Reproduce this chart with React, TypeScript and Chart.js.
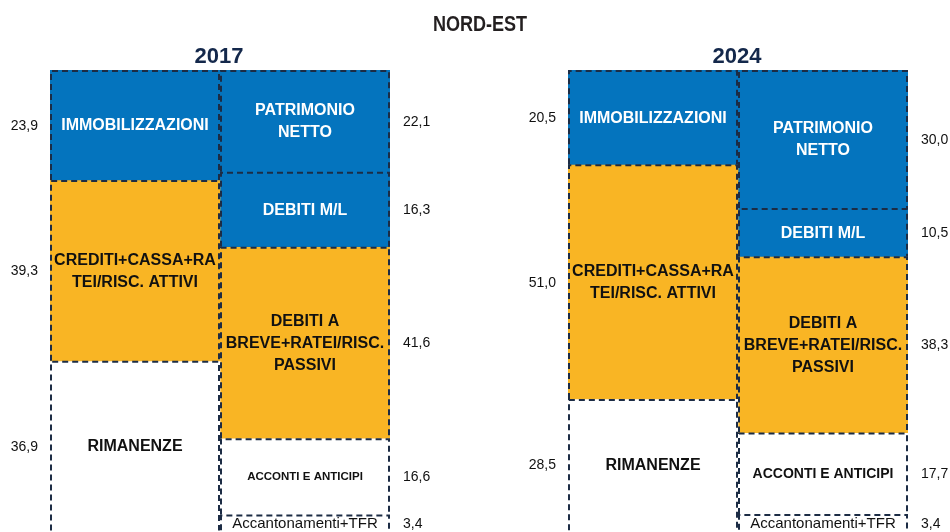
import React, { useEffect, useRef } from "react";
import { Chart, registerables } from "chart.js";

Chart.register(...registerables);

// ---- data ----
const REGION = "NORD-EST";
const YEARS = ["2017", "2024"];
const COLUMNS = ["Attivo", "Passivo"];

const ASSET_LINES: string[][] = [
  ["IMMOBILIZZAZIONI"],
  ["CREDITI+CASSA+RA", "TEI/RISC. ATTIVI"],
  ["RIMANENZE"],
];
const LIAB_LINES: string[][] = [
  ["PATRIMONIO", "NETTO"],
  ["DEBITI M/L"],
  ["DEBITI A", "BREVE+RATEI/RISC.", "PASSIVI"],
  ["ACCONTI E ANTICIPI"],
  ["Accantonamenti+TFR"],
];

const ASSETS_2017 = [23.9, 39.3, 36.9];
const LIABS_2017 = [22.1, 16.3, 41.6, 16.6, 3.4];
const ASSETS_2024 = [20.5, 51.0, 28.5];
const LIABS_2024 = [30.0, 10.5, 38.3, 17.7, 3.4];

// ---- styles ----
const BLUE = "#0474BE";
const YELLOW = "#F9B524";
const WHITE = "#FFFFFF";
const BORDER = "#1C2C45";
const ASSET_FILL = [BLUE, YELLOW, WHITE];
const LIAB_FILL = [BLUE, BLUE, YELLOW, WHITE, WHITE];
const ASSET_TEXT = ["#FFFFFF", "#111111", "#111111"];
const LIAB_TEXT = ["#FFFFFF", "#FFFFFF", "#111111", "#111111", "#111111"];

const fmt = (v: number) => v.toFixed(1).replace(".", ",");

type PanelCfg = {
  assets: number[];
  liabs: number[];
  accontiSize: number;
};

const boxPlugin = {
  id: "boxes",
  afterDatasetsDraw(chart: any) {
    const ctx: CanvasRenderingContext2D = chart.ctx;
    const cfg: PanelCfg = chart.options.plugins.boxes;
    chart.data.datasets.forEach((ds: any, i: number) => {
      const meta = chart.getDatasetMeta(i);
      meta.data.forEach((el: any, j: number) => {
        const v = ds.data[j];
        if (v == null) return;
        const p = el.getProps(["x", "y", "base", "width"], true);
        const left = p.x - p.width / 2;
        const right = p.x + p.width / 2;
        const top = Math.min(p.y, p.base);
        const bottom = Math.max(p.y, p.base);
        // dashed outline: top + sides (bottom edge is the next segment's top)
        ctx.save();
        ctx.setLineDash([6, 4]);
        ctx.lineWidth = 2;
        ctx.strokeStyle = BORDER;
        ctx.beginPath();
        ctx.moveTo(left + 1, bottom);
        ctx.lineTo(left + 1, top + 1);
        ctx.lineTo(right - 1, top + 1);
        ctx.lineTo(right - 1, bottom);
        ctx.stroke();
        ctx.restore();

        // label inside
        const lines: string[] = ds.lines;
        const isAcconti = ds.kind === "liab" && ds.idx === 3;
        const isAccant = ds.kind === "liab" && ds.idx === 4;
        const size = isAcconti ? cfg.accontiSize : isAccant ? 15 : 16;
        const weight = isAccant ? "normal" : "bold";
        const dy = isAccant ? 2 : 1;
        ctx.save();
        ctx.font = `${weight} ${size}px "Liberation Sans", Arial, sans-serif`;
        ctx.fillStyle = ds.textColor;
        ctx.textAlign = "center";
        ctx.textBaseline = "middle";
        const lh = 22;
        const cy = (top + bottom) / 2;
        lines.forEach((ln, k) => {
          ctx.fillText(ln, p.x, cy + (k - (lines.length - 1) / 2) * lh + dy);
        });
        // value label
        ctx.font = `normal 14px "Liberation Sans", Arial, sans-serif`;
        ctx.fillStyle = "#111111";
        if (ds.kind === "asset") {
          ctx.textAlign = "right";
          ctx.fillText(fmt(v), left - 12, cy + 1);
        } else {
          ctx.textAlign = "left";
          ctx.fillText(fmt(v), right + 13, cy + dy);
        }
        ctx.restore();
      });
    });
  },
};

function buildDatasets(assets: number[], liabs: number[]) {
  const ds: any[] = [];
  assets.forEach((v, i) =>
    ds.push({
      data: [v, null],
      backgroundColor: ASSET_FILL[i],
      borderWidth: 0,
      lines: ASSET_LINES[i],
      textColor: ASSET_TEXT[i],
      kind: "asset",
      idx: i,
    })
  );
  liabs.forEach((v, i) =>
    ds.push({
      data: [null, v],
      backgroundColor: LIAB_FILL[i],
      borderWidth: 0,
      lines: LIAB_LINES[i],
      textColor: LIAB_TEXT[i],
      kind: "liab",
      idx: i,
    })
  );
  return ds;
}

function Panel(props: {
  left: number;
  padLeft: number;
  padRight: number;
  cfg: PanelCfg;
}) {
  const ref = useRef<HTMLCanvasElement | null>(null);
  useEffect(() => {
    if (!ref.current) return;
    const chart = new Chart(ref.current, {
      type: "bar",
      data: {
        labels: COLUMNS,
        datasets: buildDatasets(props.cfg.assets, props.cfg.liabs) as any,
      },
      options: {
        animation: false,
        responsive: false,
        maintainAspectRatio: false,
        layout: {
          padding: { left: props.padLeft, right: props.padRight, top: 70, bottom: 28 },
        },
        datasets: { bar: { barPercentage: 1, categoryPercentage: 1 } },
        plugins: {
          legend: { display: false },
          tooltip: { enabled: false },
          boxes: props.cfg,
        } as any,
        scales: {
          x: { stacked: true, display: false },
          y: { stacked: true, display: false, reverse: true, min: 0, max: 100.4 },
        },
      },
      plugins: [boxPlugin as any],
    });
    return () => chart.destroy();
  }, []);
  return (
    <canvas
      ref={ref}
      width={475}
      height={560}
      style={{ position: "absolute", left: props.left, top: 0, width: 475, height: 560 }}
    />
  );
}

export default function App() {
  const yearStyle: React.CSSProperties = {
    position: "absolute",
    top: 42,
    width: 200,
    textAlign: "center",
    font: 'bold 22px "Liberation Sans", Arial, sans-serif',
    lineHeight: "28px",
    color: "#14284B",
  };
  return (
    <div
      style={{
        position: "fixed",
        left: 0,
        top: 0,
        width: 950,
        height: 532,
        overflow: "hidden",
        background: "#fff",
      }}
    >
      <Panel left={0} padLeft={50} padRight={85} cfg={{ assets: ASSETS_2017, liabs: LIABS_2017, accontiSize: 11.5 }} />
      <Panel left={475} padLeft={93} padRight={42} cfg={{ assets: ASSETS_2024, liabs: LIABS_2024, accontiSize: 14 }} />
      <div
        style={{
          position: "absolute",
          left: 380,
          top: 10,
          width: 200,
          textAlign: "center",
          font: 'bold 22px "Liberation Sans", Arial, sans-serif',
          lineHeight: "28px",
          color: "#231F20",
          transform: "scaleX(0.82)",
          transformOrigin: "center",
        }}
      >
        {REGION}
      </div>
      <div style={{ ...yearStyle, left: 119 }}>{YEARS[0]}</div>
      <div style={{ ...yearStyle, left: 637 }}>{YEARS[1]}</div>
    </div>
  );
}
